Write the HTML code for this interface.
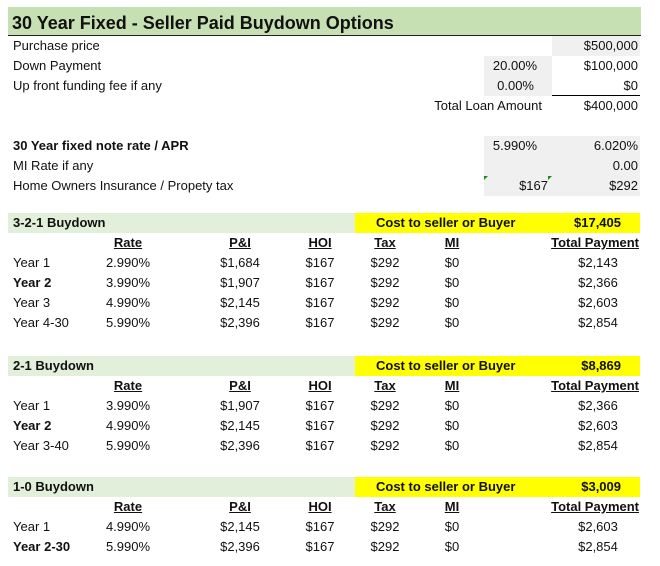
<!DOCTYPE html>
<html><head><style>
body{margin:0;width:660px;height:566px;background:#fff;position:relative;font-family:"Liberation Sans",sans-serif;font-size:13px;color:#111;overflow:hidden}
div{position:absolute;line-height:20px;height:20px;white-space:nowrap}
.r{text-align:right}.c{text-align:center}.b{font-weight:bold}.u{text-decoration:underline;font-weight:bold}
.g{background:#f0f0f0}
</style></head><body>
<div style="left:8px;top:7px;width:633px;height:28px;background:#c6e0b4;border-bottom:1px solid #222"></div>
<div class="b" style="left:12px;top:11px;font-size:18px;line-height:24px;height:24px">30 Year Fixed - Seller Paid Buydown Options</div>
<div class="g" style="left:552px;top:36px;width:88px;height:20px"></div>
<div class="g" style="left:484px;top:56px;width:68px;height:40px"></div>
<div class="g" style="left:484px;top:136px;width:156px;height:60px"></div>
<div style="left:552px;top:95px;width:88px;height:1px;background:#000"></div>
<div style="left:13px;top:36px">Purchase price</div>
<div class="r" style="left:540px;top:36px;width:98px">$500,000</div>
<div style="left:13px;top:56px">Down Payment</div>
<div class="r" style="left:440px;top:56px;width:97px">20.00%</div>
<div class="r" style="left:540px;top:56px;width:98px">$100,000</div>
<div style="left:13px;top:76px">Up front funding fee if any</div>
<div class="r" style="left:440px;top:76px;width:94px">0.00%</div>
<div class="r" style="left:540px;top:76px;width:98px">$0</div>
<div class="r" style="left:340px;top:96px;width:202px">Total Loan Amount</div>
<div class="r" style="left:540px;top:96px;width:98px">$400,000</div>
<div class="b" style="left:13px;top:136px">30 Year fixed note rate / APR</div>
<div class="r" style="left:440px;top:136px;width:97px">5.990%</div>
<div class="r" style="left:540px;top:136px;width:98px">6.020%</div>
<div style="left:13px;top:156px">MI Rate if any</div>
<div class="r" style="left:540px;top:156px;width:98px">0.00</div>
<div style="left:13px;top:176px">Home Owners Insurance / Propety tax</div>
<div class="r" style="left:440px;top:176px;width:108px">$167</div>
<div class="r" style="left:540px;top:176px;width:98px">$292</div>
<div style="left:484px;top:176px;width:0;height:0;border-top:4px solid #1a8a1a;border-right:4px solid transparent"></div>
<div style="left:548px;top:176px;width:0;height:0;border-top:4px solid #1a8a1a;border-right:4px solid transparent"></div>

<div style="left:8px;top:213px;width:347px;height:20px;background:#e2efda"></div>
<div style="left:355px;top:213px;width:285px;height:20px;background:#ffff00"></div>
<div class="b" style="left:13px;top:213px">3-2-1 Buydown</div>
<div class="b" style="left:376px;top:213px">Cost to seller or Buyer</div>
<div class="b r" style="left:540px;top:213px;width:81px">$17,405</div>
<div class="u c" style="left:98px;top:233px;width:60px">Rate</div>
<div class="u c" style="left:210px;top:233px;width:60px">P&amp;I</div>
<div class="u c" style="left:290px;top:233px;width:60px">HOI</div>
<div class="u c" style="left:355px;top:233px;width:60px">Tax</div>
<div class="u c" style="left:422px;top:233px;width:60px">MI</div>
<div class="u r" style="left:520px;top:233px;width:119px">Total Payment</div>

<div style="left:13px;top:253px">Year 1</div><div class="c" style="left:93px;top:253px;width:70px">2.990%</div><div class="c" style="left:205px;top:253px;width:70px">$1,684</div><div class="c" style="left:290px;top:253px;width:60px">$167</div><div class="c" style="left:355px;top:253px;width:60px">$292</div><div class="c" style="left:422px;top:253px;width:60px">$0</div><div class="c" style="left:568px;top:253px;width:60px">$2,143</div>
<div class="b" style="left:13px;top:273px">Year 2</div><div class="c" style="left:93px;top:273px;width:70px">3.990%</div><div class="c" style="left:205px;top:273px;width:70px">$1,907</div><div class="c" style="left:290px;top:273px;width:60px">$167</div><div class="c" style="left:355px;top:273px;width:60px">$292</div><div class="c" style="left:422px;top:273px;width:60px">$0</div><div class="c" style="left:568px;top:273px;width:60px">$2,366</div>
<div style="left:13px;top:293px">Year 3</div><div class="c" style="left:93px;top:293px;width:70px">4.990%</div><div class="c" style="left:205px;top:293px;width:70px">$2,145</div><div class="c" style="left:290px;top:293px;width:60px">$167</div><div class="c" style="left:355px;top:293px;width:60px">$292</div><div class="c" style="left:422px;top:293px;width:60px">$0</div><div class="c" style="left:568px;top:293px;width:60px">$2,603</div>
<div style="left:13px;top:313px">Year 4-30</div><div class="c" style="left:93px;top:313px;width:70px">5.990%</div><div class="c" style="left:205px;top:313px;width:70px">$2,396</div><div class="c" style="left:290px;top:313px;width:60px">$167</div><div class="c" style="left:355px;top:313px;width:60px">$292</div><div class="c" style="left:422px;top:313px;width:60px">$0</div><div class="c" style="left:568px;top:313px;width:60px">$2,854</div>

<div style="left:8px;top:356px;width:347px;height:20px;background:#e2efda"></div>
<div style="left:355px;top:356px;width:285px;height:20px;background:#ffff00"></div>
<div class="b" style="left:13px;top:356px">2-1 Buydown</div>
<div class="b" style="left:376px;top:356px">Cost to seller or Buyer</div>
<div class="b r" style="left:540px;top:356px;width:81px">$8,869</div>
<div class="u c" style="left:98px;top:376px;width:60px">Rate</div>
<div class="u c" style="left:210px;top:376px;width:60px">P&amp;I</div>
<div class="u c" style="left:290px;top:376px;width:60px">HOI</div>
<div class="u c" style="left:355px;top:376px;width:60px">Tax</div>
<div class="u c" style="left:422px;top:376px;width:60px">MI</div>
<div class="u r" style="left:520px;top:376px;width:119px">Total Payment</div>
<div style="left:13px;top:396px">Year 1</div><div class="c" style="left:93px;top:396px;width:70px">3.990%</div><div class="c" style="left:205px;top:396px;width:70px">$1,907</div><div class="c" style="left:290px;top:396px;width:60px">$167</div><div class="c" style="left:355px;top:396px;width:60px">$292</div><div class="c" style="left:422px;top:396px;width:60px">$0</div><div class="c" style="left:568px;top:396px;width:60px">$2,366</div>
<div class="b" style="left:13px;top:416px">Year 2</div><div class="c" style="left:93px;top:416px;width:70px">4.990%</div><div class="c" style="left:205px;top:416px;width:70px">$2,145</div><div class="c" style="left:290px;top:416px;width:60px">$167</div><div class="c" style="left:355px;top:416px;width:60px">$292</div><div class="c" style="left:422px;top:416px;width:60px">$0</div><div class="c" style="left:568px;top:416px;width:60px">$2,603</div>
<div style="left:13px;top:436px">Year 3-40</div><div class="c" style="left:93px;top:436px;width:70px">5.990%</div><div class="c" style="left:205px;top:436px;width:70px">$2,396</div><div class="c" style="left:290px;top:436px;width:60px">$167</div><div class="c" style="left:355px;top:436px;width:60px">$292</div><div class="c" style="left:422px;top:436px;width:60px">$0</div><div class="c" style="left:568px;top:436px;width:60px">$2,854</div>

<div style="left:8px;top:477px;width:347px;height:20px;background:#e2efda"></div>
<div style="left:355px;top:477px;width:285px;height:20px;background:#ffff00"></div>
<div class="b" style="left:13px;top:477px">1-0 Buydown</div>
<div class="b" style="left:376px;top:477px">Cost to seller or Buyer</div>
<div class="b r" style="left:540px;top:477px;width:81px">$3,009</div>
<div class="u c" style="left:98px;top:497px;width:60px">Rate</div>
<div class="u c" style="left:210px;top:497px;width:60px">P&amp;I</div>
<div class="u c" style="left:290px;top:497px;width:60px">HOI</div>
<div class="u c" style="left:355px;top:497px;width:60px">Tax</div>
<div class="u c" style="left:422px;top:497px;width:60px">MI</div>
<div class="u r" style="left:520px;top:497px;width:119px">Total Payment</div>
<div style="left:13px;top:517px">Year 1</div><div class="c" style="left:93px;top:517px;width:70px">4.990%</div><div class="c" style="left:205px;top:517px;width:70px">$2,145</div><div class="c" style="left:290px;top:517px;width:60px">$167</div><div class="c" style="left:355px;top:517px;width:60px">$292</div><div class="c" style="left:422px;top:517px;width:60px">$0</div><div class="c" style="left:568px;top:517px;width:60px">$2,603</div>
<div class="b" style="left:13px;top:537px">Year 2-30</div><div class="c" style="left:93px;top:537px;width:70px">5.990%</div><div class="c" style="left:205px;top:537px;width:70px">$2,396</div><div class="c" style="left:290px;top:537px;width:60px">$167</div><div class="c" style="left:355px;top:537px;width:60px">$292</div><div class="c" style="left:422px;top:537px;width:60px">$0</div><div class="c" style="left:568px;top:537px;width:60px">$2,854</div>
</body></html>
